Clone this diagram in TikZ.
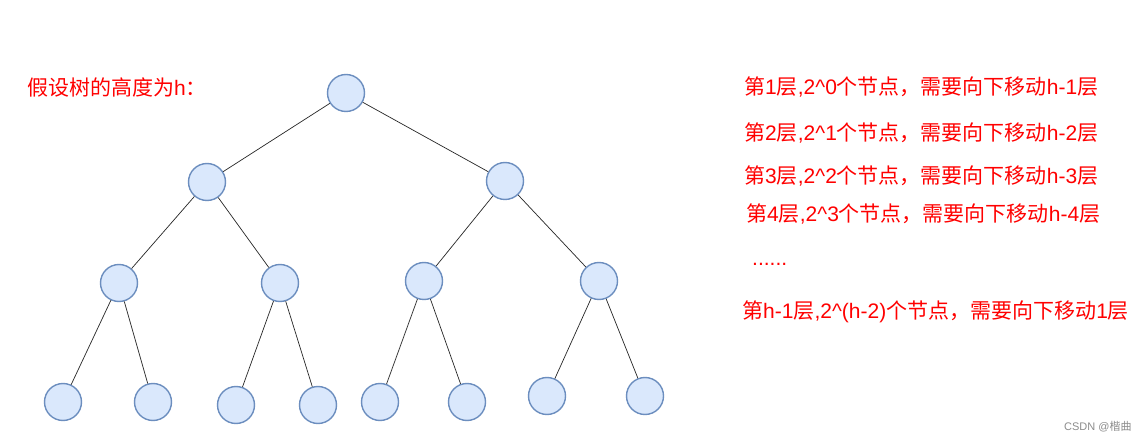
\documentclass[tikz,border=0pt]{standalone}
\usepackage{fontspec}
\setmainfont{Noto Sans CJK SC}
\newfontfamily\cjk{Noto Sans CJK SC}
\newfontfamily\arl{Liberation Sans}
\newcommand{\lt}[1]{{\arl #1}}
\begin{document}
\begin{tikzpicture}[x=1pt,y=-1pt,
  tnode/.style={circle,draw=nodeborder,fill=nodefill,line width=1.4pt,minimum size=37pt,inner sep=0pt},
  edge/.style={draw=black!85,line width=0.7pt},
  lbl/.style={anchor=west,inner sep=0pt,text=red,font=\cjk\fontsize{21}{23}\selectfont},
  wmark/.style={anchor=west,inner sep=0pt,text=black!45,font=\cjk\fontsize{11}{12}\selectfont}]
\definecolor{nodefill}{HTML}{DAE8FC}
\definecolor{nodeborder}{HTML}{6C8EBF}
\useasboundingbox[fill=white] (0,0) rectangle (1146,443);
% tree nodes
\node[tnode] (r) at (346,93) {};
\node[tnode] (a) at (207,182) {};
\node[tnode] (b) at (505,181) {};
\node[tnode] (aa) at (119,283) {};
\node[tnode] (ab) at (280,283) {};
\node[tnode] (ba) at (424,281) {};
\node[tnode] (bb) at (599,281) {};
\node[tnode] (aaa) at (63,402) {};
\node[tnode] (aab) at (153,402) {};
\node[tnode] (aba) at (236,405) {};
\node[tnode] (abb) at (318,405) {};
\node[tnode] (baa) at (380,402) {};
\node[tnode] (bab) at (467,402) {};
\node[tnode] (bba) at (547,396) {};
\node[tnode] (bbb) at (645,396) {};
% edges
\draw[edge] (r) -- (a);
\draw[edge] (r) -- (b);
\draw[edge] (a) -- (aa);
\draw[edge] (a) -- (ab);
\draw[edge] (b) -- (ba);
\draw[edge] (b) -- (bb);
\draw[edge] (aa) -- (aaa);
\draw[edge] (aa) -- (aab);
\draw[edge] (ab) -- (aba);
\draw[edge] (ab) -- (abb);
\draw[edge] (ba) -- (baa);
\draw[edge] (ba) -- (bab);
\draw[edge] (bb) -- (bba);
\draw[edge] (bb) -- (bbb);
% labels
\node[lbl] (h) at (27,88) {假设树的高度为\lt{h}：};
\node[lbl] (l1) at (744,87) {第\lt{1}层\lt{,2\^{}0}个节点，需要向下移动\lt{h-1}层};
\node[lbl] (l2) at (744,133) {第\lt{2}层\lt{,2\^{}1}个节点，需要向下移动\lt{h-2}层};
\node[lbl] (l3) at (744,176) {第\lt{3}层\lt{,2\^{}2}个节点，需要向下移动\lt{h-3}层};
\node[lbl] (l4) at (746,214) {第\lt{4}层\lt{,2\^{}3}个节点，需要向下移动\lt{h-4}层};
\node[lbl] (dots) at (752,264) {\lt{......}};
\node[lbl] (lh) at (742,312) {第\lt{h-1}层\lt{,2\^{}(h-2)}个节点，需要向下移动\lt{1}层};
\node[wmark] (wm) at (1064,427) {\lt{CSDN @}楷曲};
\end{tikzpicture}
\end{document}
